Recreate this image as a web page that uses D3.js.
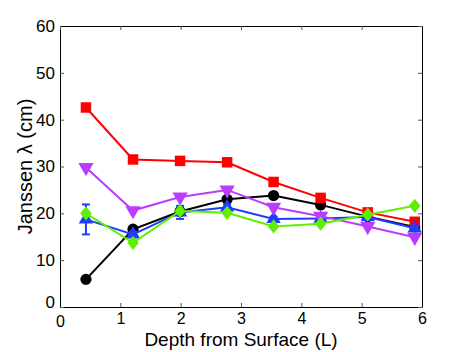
<!DOCTYPE html>
<html>
<head>
<meta charset="utf-8">
<script src="https://cdn.jsdelivr.net/npm/d3@7"></script>
<style>
  body { margin: 0; background: #fff; }
  text { font-family: "Liberation Sans", Arial, sans-serif; }
</style>
</head>
<body>
<svg id="chart" width="467" height="352"></svg>
<script>
// depth positions (L)
const depths = [0.43, 1.21, 1.99, 2.77, 3.54, 4.32, 5.10, 5.88];

const redVals    = [42.6, 31.5, 31.2, 30.9, 26.7, 23.3, 20.2, 18.2];
const blackVals  = [5.9, 16.6, 20.4, 23.0, 23.8, 21.8, 19.3, 17.1];
const blueVals   = [18.7, 15.5, 20.2, 21.3, 18.8, 18.9, 19.2, 16.8];
const blueErr    = [3.2, 0.6, 1.4, 0.6, 0.5, 0.5, 0.5, 0.5];
const purpleVals = [29.8, 20.6, 23.5, 25.0, 21.3, 19.4, 17.2, 14.9];
const greenVals  = [20.0, 13.7, 20.5, 20.1, 17.2, 17.8, 19.7, 21.6];

const xTicks = [0, 1, 2, 3, 4, 5, 6];
const yTicks = [0, 10, 20, 30, 40, 50, 60];

const svg = d3.select("#chart");
const margin = {left: 60, right: 45, top: 26, bottom: 45};
const width = 467 - margin.left - margin.right,
      height = 352 - margin.top - margin.bottom;

const g = svg.append("g").attr("transform", `translate(${margin.left},${margin.top})`);

const x = d3.scaleLinear().domain([0, 6]).range([0, width]);
const y = d3.scaleLinear().domain([0, 60]).range([height, 0]);

// axes with inward ticks
const xAxis = g.append("g").attr("transform", `translate(0,${height})`)
  .call(d3.axisBottom(x).tickValues(xTicks).tickFormat(d3.format("d")).tickSizeInner(-4).tickSizeOuter(0).tickPadding(6));
const yAxis = g.append("g")
  .call(d3.axisLeft(y).tickValues(yTicks).tickFormat(d3.format("d")).tickSizeInner(-4).tickSizeOuter(0).tickPadding(5));
g.append("g").call(d3.axisTop(x).tickValues(xTicks).tickSizeInner(-4).tickSizeOuter(0).tickFormat(""));
g.append("g").attr("transform", `translate(${width},0)`)
  .call(d3.axisRight(y).tickValues(yTicks).tickSizeInner(-4).tickSizeOuter(0).tickFormat(""));

g.selectAll(".domain").attr("stroke", "#000").attr("stroke-width", 1);
g.selectAll(".tick line").attr("stroke", "#555");
xAxis.selectAll("text").attr("font-size", "16px").attr("fill", "#000");
yAxis.selectAll("text").attr("font-size", "17px").attr("fill", "#000");
yAxis.selectAll(".tick").filter(d => d === 0).select("text").attr("dy", "0");
xAxis.selectAll(".tick").filter(d => d === 0).select("text").attr("dy", "0.9em");

const line = d3.line().x(d => x(d[0])).y(d => y(d[1]));

function drawSeries(vals, color, symbol, size, rotate) {
  const pts = depths.map((d, i) => [d, vals[i]]);
  g.append("path").datum(pts)
    .attr("fill", "none")
    .attr("stroke", color)
    .attr("stroke-width", 2)
    .attr("d", line);
  g.selectAll(null).data(pts).join("path")
    .attr("transform", d => `translate(${x(d[0])},${y(d[1])}) rotate(${rotate})`)
    .attr("d", d3.symbol().type(symbol).size(size))
    .attr("fill", color);
}

const blue = "#1f3dff";
drawSeries(blackVals, "#000000", d3.symbolCircle, 100, 0);
drawSeries(redVals, "#ff0000", d3.symbolSquare, 110, 0);

// blue error bars
const eb = g.append("g").attr("stroke", blue).attr("stroke-width", 2);
depths.forEach((d, i) => {
  const cx = x(d), y0 = y(blueVals[i] - blueErr[i]), y1 = y(blueVals[i] + blueErr[i]);
  eb.append("line").attr("x1", cx).attr("x2", cx).attr("y1", y0).attr("y2", y1);
  eb.append("line").attr("x1", cx - 4).attr("x2", cx + 4).attr("y1", y0).attr("y2", y0);
  eb.append("line").attr("x1", cx - 4).attr("x2", cx + 4).attr("y1", y1).attr("y2", y1);
});
drawSeries(blueVals, blue, d3.symbolTriangle, 90, 0);
drawSeries(purpleVals, "#b93cff", d3.symbolTriangle, 100, 180);

// diamond: custom tall shape
const diamond = { draw(ctx, size) { const r = Math.sqrt(size) / 2; ctx.moveTo(0, -r * 1.25); ctx.lineTo(r, 0); ctx.lineTo(0, r * 1.25); ctx.lineTo(-r, 0); ctx.closePath(); } };
drawSeries(greenVals, "#5ef000", diamond, 130, 0);

// labels
svg.append("text")
  .attr("x", margin.left + width / 2)
  .attr("y", 346)
  .attr("text-anchor", "middle")
  .attr("font-size", "19px")
  .text("Depth from Surface (L)");

svg.append("text")
  .attr("transform", `translate(32,${margin.top + height / 2}) rotate(-90)`)
  .attr("text-anchor", "middle")
  .attr("font-size", "20px")
  .text("Janssen λ (cm)");
</script>
</body>
</html>
